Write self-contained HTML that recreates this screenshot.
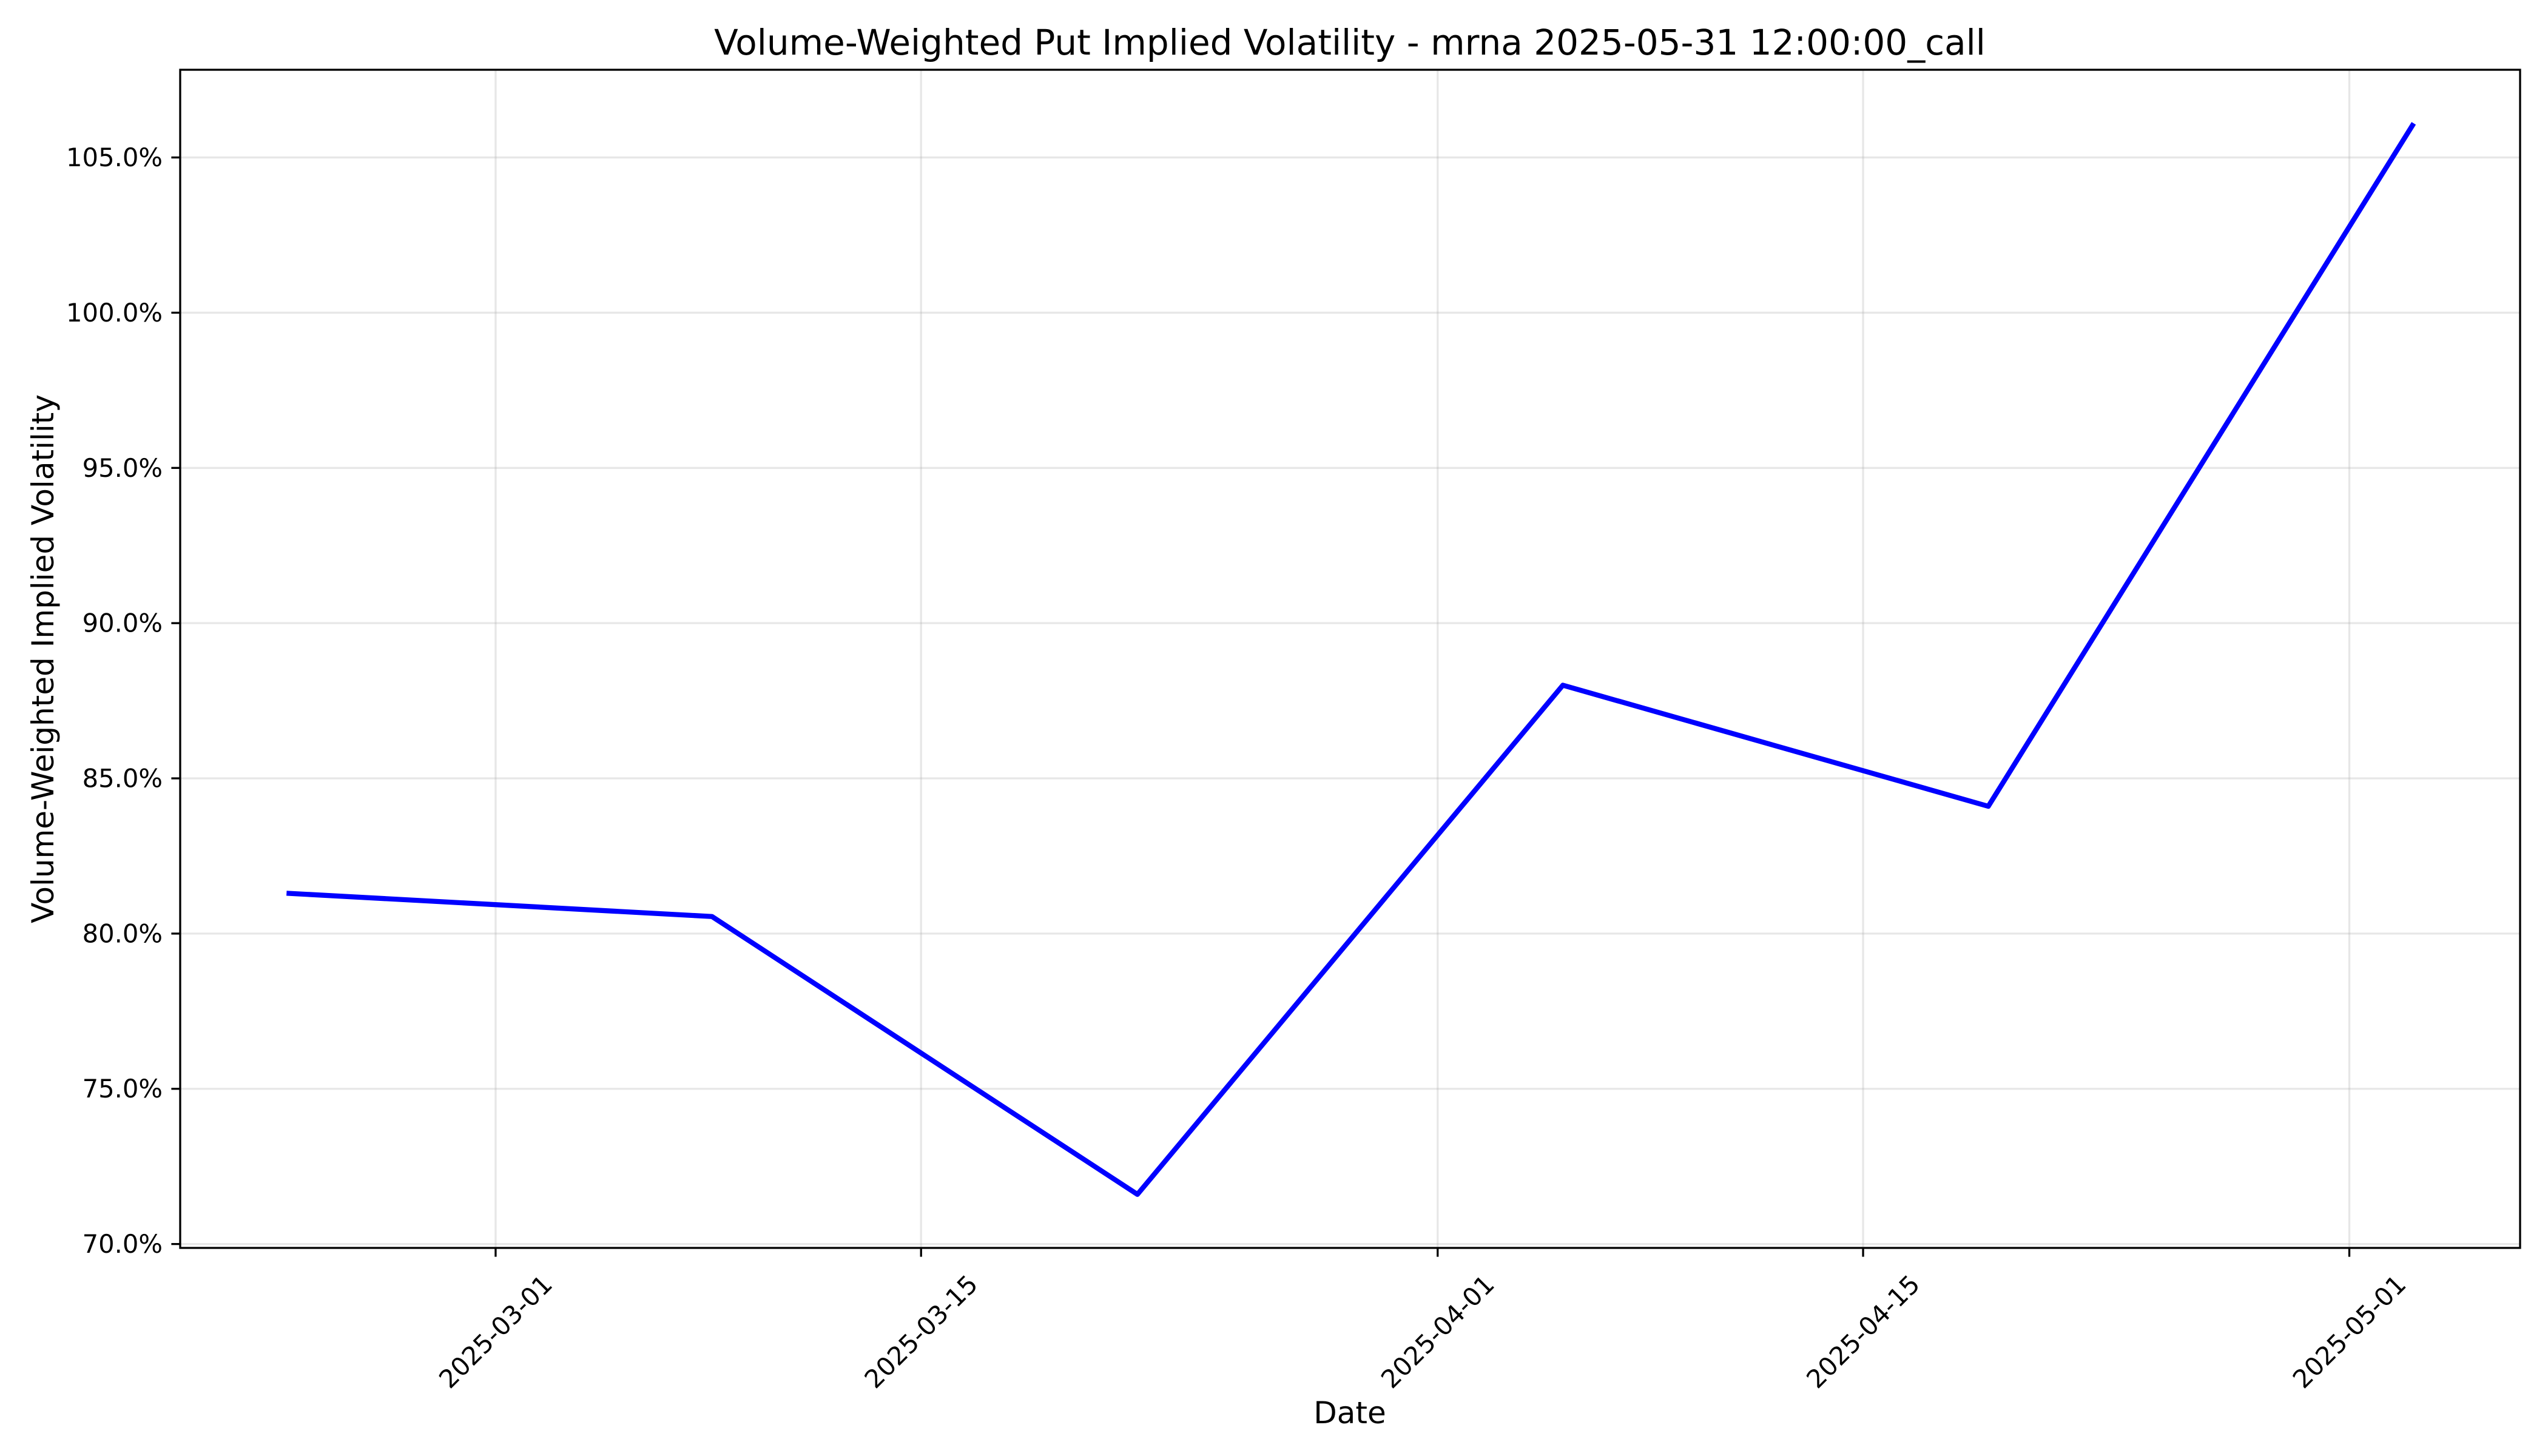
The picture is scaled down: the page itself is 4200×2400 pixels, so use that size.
<!DOCTYPE html>
<html><head><meta charset="utf-8"><style>
html,body{margin:0;padding:0;background:#fff}
svg{display:block;font-family:"DejaVu Sans","Liberation Sans",sans-serif}
</style></head><body>
<svg id="chart" width="4200" height="2400" viewBox="0 0 4200 2400" xmlns="http://www.w3.org/2000/svg">
<rect width="4200" height="2400" fill="#fff"/>
<text x="2225" y="90" font-size="58" text-anchor="middle">Volume-Weighted Put Implied Volatility - mrna 2025-05-31 12:00:00_call</text>
<g id="grid"></g><g id="series"></g><g id="axes"></g>
<text x="2225" y="2346" font-size="50" text-anchor="middle">Date</text>
<text transform="translate(88,1086) rotate(-90)" font-size="50" text-anchor="middle">Volume-Weighted Implied Volatility</text>
</svg>
<script>
const dates = ["2025-02-22","2025-03-08","2025-03-22","2025-04-05","2025-04-19","2025-05-03"];
const ivValues = [81.3, 80.55, 71.6, 88.0, 84.1, 106.1];
const xTickLabels = ["2025-03-01","2025-03-15","2025-04-01","2025-04-15","2025-05-01"];
const yTickValues = [70,75,80,85,90,95,100,105];

const NS="http://www.w3.org/2000/svg";
const L=297,R=4154,T=115,B=2057;
const day=s=>Date.parse(s+"T00:00:00Z")/86400000;
const dMin=Math.min(...dates.map(day)),dMax=Math.max(...dates.map(day));
const xPad=(dMax-dMin)*0.05;
const x0=dMin-xPad,x1=dMax+xPad;
const vMin=Math.min(...ivValues),vMax=Math.max(...ivValues),yPad=(vMax-vMin)*0.05;
const y0=vMin-yPad,y1=vMax+yPad;
const X=d=>L+(day(d)-x0)/(x1-x0)*(R-L);
const Y=v=>B-(v-y0)/(y1-y0)*(B-T);
function mk(tag,attrs,parent){const e=document.createElementNS(NS,tag);for(const k in attrs)e.setAttribute(k,attrs[k]);parent.appendChild(e);return e;}
const grid=document.getElementById('grid'),axes=document.getElementById('axes'),series=document.getElementById('series');

xTickLabels.forEach(lab=>{
  const x=X(lab)-6;
  const g=mk('line',{x1:x,x2:x,y1:T,y2:B,stroke:'#b0b0b0','stroke-opacity':0.3,'stroke-width':3.3},grid);
  
  
  const t=mk('line',{x1:x,x2:x,y1:B,y2:B+14.6,stroke:'#000','stroke-width':3.3},axes);
  
  
  const tx=mk('text',{x:0,y:0,'font-size':41.7,'text-anchor':'middle','dominant-baseline':'central',transform:`translate(${x},${B+138}) rotate(-45)`},axes);
  tx.textContent=lab;
  
  
});
yTickValues.forEach(v=>{
  const y=Y(v);
  const g=mk('line',{x1:L,x2:R,y1:y,y2:y,stroke:'#b0b0b0','stroke-opacity':0.3,'stroke-width':3.3},grid);
  
  
  const t=mk('line',{x1:L-14.6,x2:L,y1:y,y2:y,stroke:'#000','stroke-width':3.3},axes);
  
  
  const tx=mk('text',{x:L-29,y:y,'font-size':41.7,'text-anchor':'end','dominant-baseline':'central'},axes);
  tx.textContent=v.toFixed(1)+'%';
  
  
});
const frame=mk('rect',{x:L,y:T,width:R-L,height:B-T,fill:'none',stroke:'#000','stroke-width':3.3},axes);


const pts=dates.map((d,i)=>X(d)+','+Y(ivValues[i])).join(' ');
const line=mk('polyline',{points:pts,fill:'none',stroke:'#0000ff','stroke-width':8.3,'stroke-linejoin':'round','stroke-linecap':'butt'},series);


</script>
</body></html>
